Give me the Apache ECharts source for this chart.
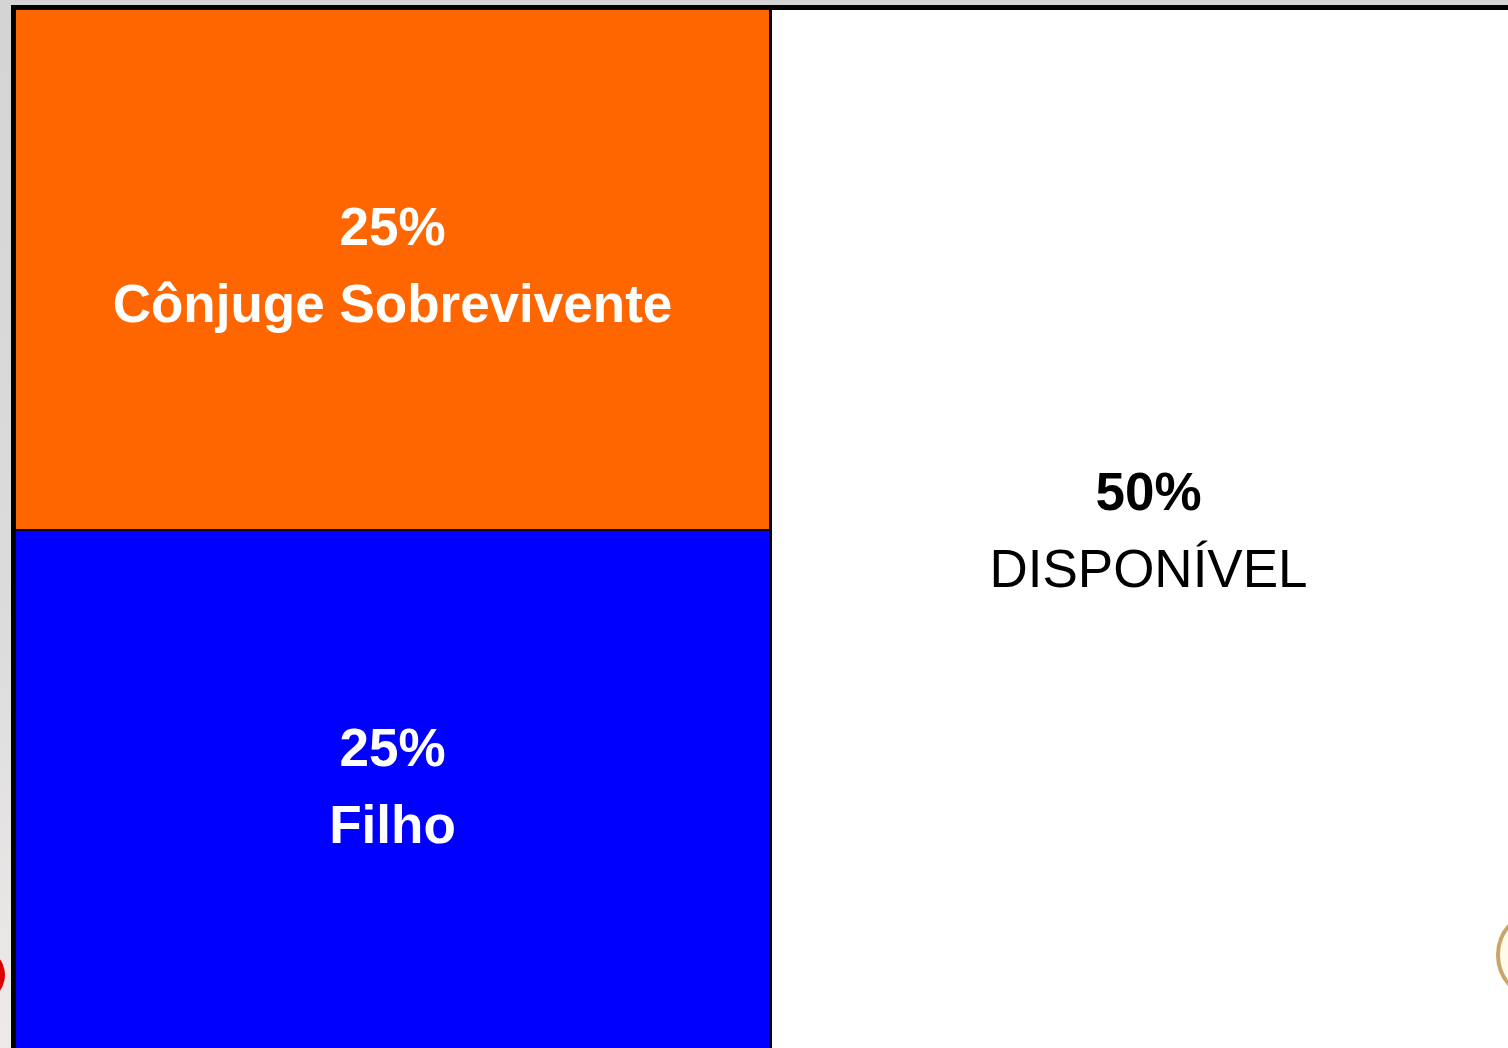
<!DOCTYPE html>
<html>
<head>
<meta charset="utf-8">
<script src="https://cdn.jsdelivr.net/npm/echarts@6/dist/echarts.min.js"></script>
<style>
html,body{margin:0;padding:0;width:1508px;height:1048px;overflow:hidden;background:#ffffff;}
#chart{width:1508px;height:1048px;}
</style>
</head>
<body>
<div id="chart"></div>
<script>
// ---- data ----
var leftNames = ['Cônjuge Sobrevivente', 'Filho'];
var leftValues = [25, 25];
var rightName = 'DISPONÍVEL';
var rightValue = 50;
var leftColors = ['#FF6600', '#0000FF'];

var chart = echarts.init(document.getElementById('chart'));

function richStyles(color, nameWeight) {
  return {
    p: { fontFamily: 'Liberation Sans', fontWeight: 'bold', fontSize: 53, color: color, lineHeight: 77 },
    n: { fontFamily: 'Liberation Sans', fontWeight: nameWeight, fontSize: 53, color: color, lineHeight: 77 }
  };
}

var leftChildren = leftNames.map(function (n, i) {
  return {
    name: n,
    value: leftValues[i],
    itemStyle: { color: leftColors[i], borderWidth: 0 },
    label: { padding: [182, 0, 0, 0], rich: richStyles('#ffffff', 'bold') }
  };
});

var data = [
  {
    name: 'esquerda',
    value: leftValues[0] + leftValues[1],
    itemStyle: { borderColor: '#000000', borderWidth: 0, gapWidth: 2 },
    children: leftChildren
  },
  {
    name: rightName,
    value: rightValue,
    itemStyle: { color: '#ffffff', borderWidth: 0 },
    label: { padding: [447, 0, 0, 0], rich: richStyles('#000000', 'normal') }
  }
];

chart.setOption({
  animation: false,
  backgroundColor: {
    type: 'linear', x: 0, y: 0, x2: 0, y2: 1,
    colorStops: [
      { offset: 0, color: '#d4d4d4' },
      { offset: 0.6, color: '#dcdcdc' },
      { offset: 1, color: '#efeaea' }
    ]
  },
  graphic: [
    { type: 'circle', shape: { cx: -22, cy: 975, r: 27 }, style: { fill: '#dd0000' }, z: -1 },
    { type: 'ellipse', shape: { cx: 1546, cy: 955, rx: 48, ry: 46 }, style: { fill: '#fffbea', stroke: '#c9a56a', lineWidth: 4 }, z: 100 }
  ],
  series: [{
    type: 'treemap',
    left: 11,
    top: 5,
    width: 1519,
    height: 1050,
    roam: false,
    nodeClick: false,
    sort: false,
    squareRatio: 1,
    breadcrumb: { show: false },
    silent: true,
    emphasis: { disabled: true },
    itemStyle: { borderColor: '#000000', borderWidth: 5, gapWidth: 3 },
    levels: [
      { itemStyle: { borderColor: '#000000', borderWidth: 5, gapWidth: 3 } },
      { itemStyle: { borderColor: '#000000', borderWidth: 0, gapWidth: 2 } },
      { itemStyle: { borderWidth: 0, gapWidth: 0 } }
    ],
    label: {
      show: true,
      position: 'inside',
      align: 'center',
      verticalAlign: 'middle',
      overflow: 'none',
      formatter: function (p) {
        return '{p|' + p.value + '%}\n{n|' + p.name + '}';
      }
    },
    upperLabel: { show: false },
    data: data
  }]
});
</script>
</body>
</html>
